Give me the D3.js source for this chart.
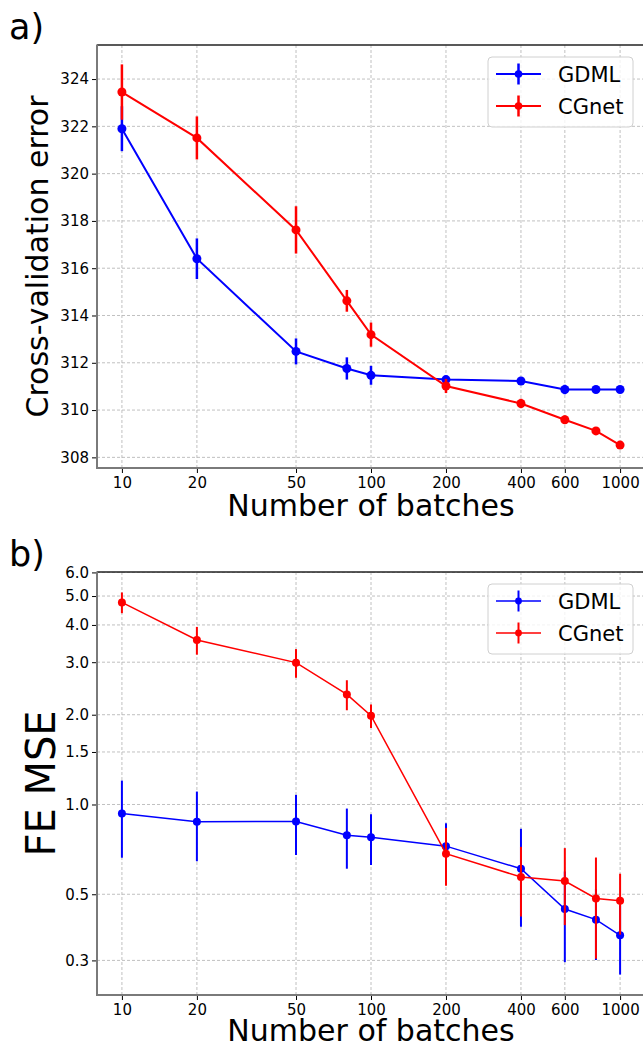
<!DOCTYPE html>
<html>
<head>
<meta charset="utf-8">
<title>Cross-validation error and FE MSE vs number of batches</title>
<script src="https://cdnjs.cloudflare.com/ajax/libs/d3/7.8.5/d3.min.js"></script>
<style>
  html, body { margin: 0; padding: 0; background: #fff; }
  svg text { font-family: "DejaVu Sans", sans-serif; fill: #000; }
</style>
</head>
<body>
<div id="chart"></div>
<script>

// batches on the x axis (same for both panels)
var batches = [10, 20, 50, 80, 100, 200, 400, 600, 800, 1000];
var xTickValues = [10, 20, 50, 100, 200, 400, 600, 1000];

// panel a) cross-validation error
var cvGdml     = [321.90, 316.40, 312.48, 311.76, 311.47, 311.29, 311.23, 310.87, 310.87, 310.87];
var cvGdmlErr  = [0.95, 0.86, 0.55, 0.47, 0.40, 0.15, 0.10, 0.20, 0.10, 0.10];
var cvCgnet    = [323.45, 321.51, 317.62, 314.62, 313.19, 311.02, 310.28, 309.59, 309.12, 308.52];
var cvCgnetErr = [1.17, 0.91, 1.00, 0.46, 0.51, 0.30, 0.20, 0.18, 0.10, 0.08];
var cvTicks    = [308, 310, 312, 314, 316, 318, 320, 322, 324];

// panel b) FE MSE
var feGdml     = [0.933, 0.875, 0.877, 0.789, 0.777, 0.725, 0.609, 0.446, 0.411, 0.364];
var feGdmlErr  = [0.27, 0.23, 0.20, 0.18, 0.15, 0.14, 0.22, 0.15, 0.11, 0.095];
var feCgnet    = [4.76, 3.56, 2.99, 2.34, 1.986, 0.684, 0.571, 0.554, 0.484, 0.476];
var feCgnetErr = [0.38, 0.38, 0.33, 0.27, 0.18, 0.15, 0.15, 0.16, 0.18, 0.11];
var feTicks    = [0.3, 0.5, 1.0, 1.5, 2.0, 3.0, 4.0, 5.0, 6.0];

var W = 643, H = 1049;
var svg = d3.select("#chart").append("svg")
  .attr("width", W).attr("height", H);

// axes box: right side runs a little past the page edge, as in the original
var left = 97, right = 645;

var x = d3.scaleLog().domain([Math.pow(10, 0.9), Math.pow(10, 3.1)]).range([left, right]);

function drawPanel(p) {   // p: {top, bottom, y, yTicks, fmt, series, letter, ylabel, lw, ew, r}
  var g = svg.append("g");
  var y = p.y;

  // grid
  g.append("g")
    .selectAll("line.vg").data(xTickValues).enter().append("line")
    .attr("x1", function (d) { return x(d); }).attr("x2", function (d) { return x(d); })
    .attr("y1", p.top).attr("y2", p.bottom)
    .attr("stroke", "#b0b0b0").attr("stroke-width", 0.8).attr("stroke-dasharray", "3,2");
  g.append("g")
    .selectAll("line.hg").data(p.yTicks).enter().append("line")
    .attr("x1", left).attr("x2", right)
    .attr("y1", function (d) { return y(d); }).attr("y2", function (d) { return y(d); })
    .attr("stroke", "#b0b0b0").attr("stroke-width", 0.8).attr("stroke-dasharray", "3,2");

  // axes
  var ax = g.append("g").attr("transform", "translate(0," + p.bottom + ")")
    .call(d3.axisBottom(x).tickValues(xTickValues).tickFormat(d3.format("d")).tickSize(5).tickPadding(4));
  var ay = g.append("g").attr("transform", "translate(" + left + ",0)")
    .call(d3.axisLeft(y).tickValues(p.yTicks).tickFormat(p.fmt).tickSize(5).tickPadding(3));
  [ax, ay].forEach(function (a) {
    a.select(".domain").remove();
    a.selectAll("text").attr("font-size", 15).attr("font-family", "DejaVu Sans");
    a.selectAll("line").attr("stroke", "#000").attr("stroke-width", 1);
  });

  // spines
  g.append("line").attr("x1", left).attr("x2", right).attr("y1", p.top).attr("y2", p.top)
    .attr("stroke", "#222").attr("stroke-width", 1.3);
  g.append("line").attr("x1", left).attr("x2", left).attr("y1", p.top - 0.5).attr("y2", p.bottom + 1)
    .attr("stroke", "#7a7a7a").attr("stroke-width", 2);
  g.append("line").attr("x1", left - 1).attr("x2", right).attr("y1", p.bottom).attr("y2", p.bottom)
    .attr("stroke", "#7a7a7a").attr("stroke-width", 2);

  // series with error bars
  p.series.forEach(function (s) {
    var pts = batches.map(function (b, i) { return { b: b, v: s.values[i], e: s.errs[i] }; });
    var sg = g.append("g");
    sg.selectAll("line.err").data(pts).enter().append("line")
      .attr("x1", function (d) { return x(d.b); }).attr("x2", function (d) { return x(d.b); })
      .attr("y1", function (d) { return y(d.v - d.e); }).attr("y2", function (d) { return y(d.v + d.e); })
      .attr("stroke", s.color).attr("stroke-width", p.ew);
    sg.append("path").datum(pts)
      .attr("d", d3.line().x(function (d) { return x(d.b); }).y(function (d) { return y(d.v); }))
      .attr("fill", "none").attr("stroke", s.color).attr("stroke-width", p.lw);
    sg.selectAll("circle").data(pts).enter().append("circle")
      .attr("cx", function (d) { return x(d.b); }).attr("cy", function (d) { return y(d.v); })
      .attr("r", p.r).attr("fill", s.color);
  });

  // legend
  var lg = g.append("g").attr("transform", "translate(488," + (p.top + 12) + ")");
  lg.append("rect").attr("width", 145).attr("height", 70).attr("rx", 4)
    .attr("fill", "#fff").attr("fill-opacity", 0.8).attr("stroke", "#d0d0d0").attr("stroke-width", 1);
  p.series.forEach(function (s, i) {
    var ly = 17 + i * 32;
    lg.append("line").attr("x1", 8).attr("x2", 53).attr("y1", ly).attr("y2", ly)
      .attr("stroke", s.color).attr("stroke-width", p.lw);
    lg.append("line").attr("x1", 30.5).attr("x2", 30.5).attr("y1", ly - 10.5).attr("y2", ly + 10.5)
      .attr("stroke", s.color).attr("stroke-width", p.ew);
    lg.append("circle").attr("cx", 30.5).attr("cy", ly).attr("r", p.r * 0.85).attr("fill", s.color);
    lg.append("text").attr("x", 70).attr("y", ly + 7.5).attr("font-size", 21).text(s.name);
  });

  // labels
  svg.append("text").attr("x", (left + right) / 2).attr("y", p.bottom + p.xlabelGap)
    .attr("text-anchor", "middle").attr("font-size", 30).text("Number of batches");
  svg.append("text")
    .attr("transform", "translate(" + p.ylabelX + "," + ((p.top + p.bottom) / 2) + ") rotate(-90)")
    .attr("text-anchor", "middle").attr("font-size", p.ylabelSize).text(p.ylabel);
  svg.append("text").attr("x", 9).attr("y", p.top - 6).attr("font-size", 35).text(p.letter);
}

drawPanel({
  top: 45, bottom: 468,
  y: d3.scaleLinear().domain([307.55, 325.44]).range([468, 45]),
  yTicks: cvTicks, fmt: d3.format("d"),
  series: [
    { name: "GDML", color: "#0000ff", values: cvGdml, errs: cvGdmlErr },
    { name: "CGnet", color: "#ff0000", values: cvCgnet, errs: cvCgnetErr }
  ],
  letter: "a)", ylabel: "Cross-validation error", ylabelX: 48, ylabelSize: 30,
  xlabelGap: 48, lw: 2, ew: 2.5, r: 4.5
});

drawPanel({
  top: 572, bottom: 995,
  y: d3.scaleLog().domain([0.2297, 6.02]).range([995, 572]),
  yTicks: feTicks, fmt: d3.format(".1f"),
  series: [
    { name: "GDML", color: "#0000ff", values: feGdml, errs: feGdmlErr },
    { name: "CGnet", color: "#ff0000", values: feCgnet, errs: feCgnetErr }
  ],
  letter: "b)", ylabel: "FE MSE", ylabelX: 55, ylabelSize: 40,
  xlabelGap: 46, lw: 1.5, ew: 2, r: 4
});

</script>
</body>
</html>
